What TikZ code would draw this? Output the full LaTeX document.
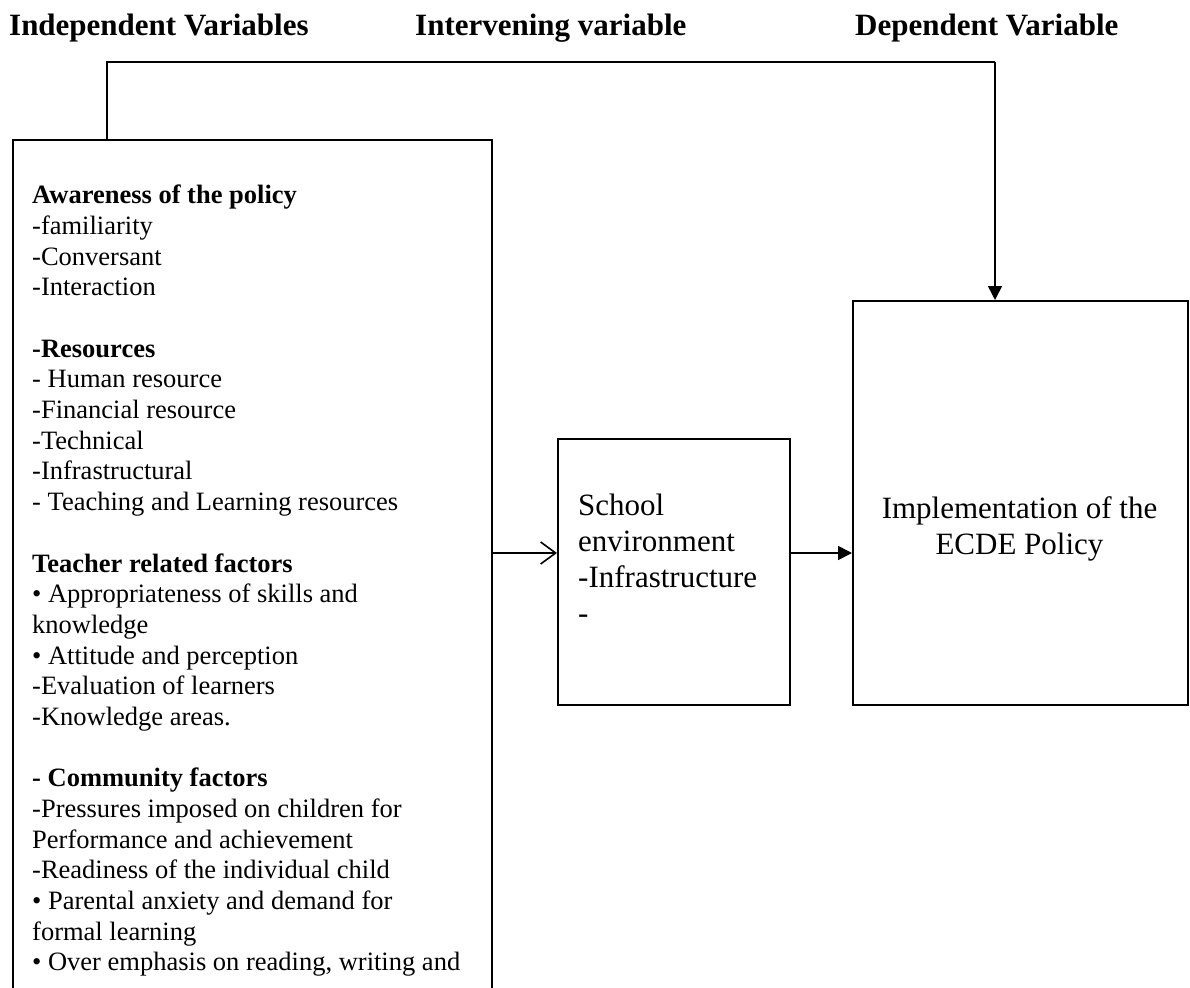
\documentclass[tikz,border=0pt]{standalone}
\usepackage{fontspec}
\setmainfont{Liberation Serif}
\usetikzlibrary{arrows.meta}
\begin{document}
\begin{tikzpicture}[x=1pt,y=-1pt,
  box/.style={draw, line width=1.6pt, inner sep=0pt, anchor=north west},
  conn/.style={line width=1.6pt},
  heading/.style={font=\fontsize{31}{36}\selectfont\bfseries, inner sep=0pt, anchor=base west},
  lefttext/.style={font=\fontsize{26.5}{30.68}\selectfont, inner sep=0pt, anchor=north west, align=left},
  midtext/.style={font=\fontsize{31}{36}\selectfont, inner sep=0pt, anchor=north west, align=left},
  righttext/.style={font=\fontsize{31}{36}\selectfont, inner sep=0pt, anchor=north, align=center},
  filledtip/.style={-{Triangle[length=14pt,width=14pt]}},
  opentip/.style={-{Straight Barb[length=15pt,width=22pt,line width=1.6pt]}},
]
\useasboundingbox (0,0) rectangle (1190,987);
% headings
\node[heading] (h1) at (9,36) {Independent Variables};
\node[heading] (h2) at (415,36) {Intervening variable};
\node[heading] (h3) at (855,36) {Dependent Variable};
% boxes
\node[box, minimum width=479pt, minimum height=900pt] (indep) at (12,139) {};
\node[box, minimum width=232pt, minimum height=266pt] (mid) at (557,438) {};
\node[box, minimum width=335pt, minimum height=404pt] (dep) at (852,300) {};
% texts
\node[lefttext] (lt) at (32,185) {\textbf{Awareness of the policy}\\
-familiarity\\
-Conversant\\
-Interaction\\[30.68pt]
\textbf{-Resources}\\
- Human resource\\
-Financial resource\\
-Technical\\
-Infrastructural\\
- Teaching and Learning resources\\[30.68pt]
\textbf{Teacher related factors}\\
• Appropriateness of skills and\\
knowledge\\
• Attitude and perception\\
-Evaluation of learners\\
-Knowledge areas.\\[30.68pt]
\textbf{- Community factors}\\
-Pressures imposed on children for\\
Performance and achievement\\
-Readiness of the individual child\\
• Parental anxiety and demand for\\
formal learning\\
• Over emphasis on reading, writing and};
\node[midtext] (mt) at (578,494) {School\\environment\\-Infrastructure\\-};
\node[righttext] (rt) at (1019.5,496) {Implementation of the\\ECDE Policy};
% connectors
\coordinate (tl) at (107,62);
\coordinate (tr) at (995,62);
\coordinate (ay) at (0,553);
\draw[conn] (indep.north -| tl) -- (tl) -- (tr);
\draw[conn, filledtip] (tr) -- (tr |- dep.north);
\draw[conn, opentip] (indep.east |- ay) -- (mid.west |- ay);
\draw[conn, filledtip] (mid.east |- ay) -- (dep.west |- ay);
\end{tikzpicture}
\end{document}
